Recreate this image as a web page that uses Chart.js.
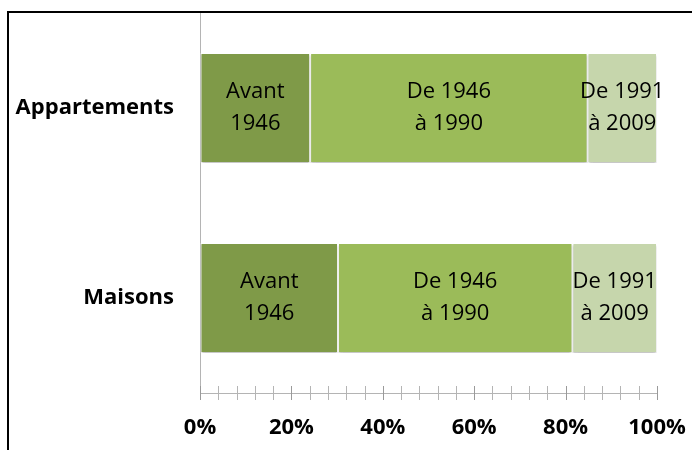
<!DOCTYPE html>
<html>
<head>
<meta charset="utf-8">
<script src="https://cdn.jsdelivr.net/npm/chart.js@4"></script>
<style>
  html, body { margin: 0; padding: 0; background: #fff; }
  #wrap { width: 692px; height: 450px; position: relative; }
</style>
</head>
<body>
<div id="wrap"><canvas id="ageChart"></canvas></div>
<script>
// Catégories et séries (parts en %)
const categories = ['Appartements', 'Maisons'];
const seriesNames = ['Avant 1946', 'De 1946 à 1990', 'De 1991 à 2009'];
const seriesLines = [['Avant', '1946'], ['De 1946', 'à 1990'], ['De 1991', 'à 2009']];
const avant1946 = [24.1, 30.2];
const de1946a1990 = [60.7, 51.3];
const de1991a2009 = [15.2, 18.5];
const majorTicks = [0, 20, 40, 60, 80, 100];

const colors = ['#7F9A48', '#9BBB59', '#C6D6AC'];
const axisGray = '#B4B4B4';

Chart.defaults.font.family = "'Open Sans', sans-serif";

// ombre légère sous les barres
const barShadow = {
    id: 'barShadow',
    beforeDatasetsDraw(chart) {
        const ctx = chart.ctx;
        ctx.save();
        ctx.shadowColor = 'rgba(0,0,0,0.22)';
        ctx.shadowOffsetY = 2;
        ctx.shadowBlur = 2;
    },
    afterDatasetsDraw(chart) {
        chart.ctx.restore();
    }
};

// étiquettes sur deux lignes au centre de chaque segment
const segLabels = {
    id: 'segLabels',
    afterDraw(chart) {
        const ctx = chart.ctx;
        ctx.save();
        ctx.fillStyle = '#000';
        ctx.font = "22px 'Open Sans'";
        ctx.textAlign = 'center';
        ctx.textBaseline = 'middle';
        chart.data.datasets.forEach((ds, i) => {
            const meta = chart.getDatasetMeta(i);
            meta.data.forEach(bar => {
                const cx = (bar.x + bar.base) / 2;
                const lines = seriesLines[i];
                ctx.fillText(lines[0], cx, bar.y - 16);
                ctx.fillText(lines[1], cx, bar.y + 16);
            });
        });
        ctx.restore();
    }
};

// petites graduations qui traversent l'axe horizontal + cadre
const axisDecor = {
    id: 'axisDecor',
    afterDraw(chart) {
        const ctx = chart.ctx;
        const xs = chart.scales.x;
        const y0 = chart.chartArea.bottom;
        ctx.save();
        ctx.lineWidth = 1;
        xs.ticks.forEach(t => {
            const px = Math.round(xs.getPixelForValue(t.value)) + 0.5;
            const major = majorTicks.includes(t.value);
            ctx.strokeStyle = major ? '#9A9A9A' : axisGray;
            ctx.beginPath();
            ctx.moveTo(px, y0 - 7);
            ctx.lineTo(px, y0 + 7);
            ctx.stroke();
        });
        // cadre noir (haut et gauche)
        ctx.strokeStyle = '#000';
        ctx.lineWidth = 2;
        ctx.beginPath();
        ctx.moveTo(8, chart.height);
        ctx.lineTo(8, 12);
        ctx.lineTo(chart.width, 12);
        ctx.stroke();
        ctx.restore();
    }
};

const datasets = [avant1946, de1946a1990, de1991a2009].map((vals, i) => ({
    label: seriesNames[i],
    data: vals,
    backgroundColor: colors[i],
    borderColor: '#FFFFFF',
    borderWidth: 1,
    borderSkipped: false,
    categoryPercentage: 0.58,
    barPercentage: 1
}));

new Chart(document.getElementById('ageChart'), {
    type: 'bar',
    data: { labels: categories, datasets: datasets },
    options: {
        indexAxis: 'y',
        responsive: true,
        maintainAspectRatio: false,
        animation: false,
        layout: { padding: { top: 13, right: 35, left: 0, bottom: 0 } },
        scales: {
            x: {
                stacked: true,
                min: 0,
                max: 100,
                afterFit(scale) {
                    scale.height = 57;
                    scale.paddingLeft = 0;
                    scale.paddingRight = 0;
                },
                ticks: {
                    stepSize: 4,
                    autoSkip: false,
                    maxRotation: 0,
                    padding: 22,
                    color: '#000',
                    font: { size: 22, weight: 'bold' },
                    callback: v => majorTicks.includes(v) ? v + '%' : ''
                },
                grid: { drawOnChartArea: false, drawTicks: false },
                border: { color: axisGray }
            },
            y: {
                stacked: true,
                afterFit(scale) {
                    scale.width = 200;
                    scale.paddingTop = 0;
                    scale.paddingBottom = 0;
                },
                ticks: {
                    padding: 26,
                    color: '#000',
                    font: { size: 22, weight: 'bold' }
                },
                grid: { drawOnChartArea: false, drawTicks: false },
                border: { color: axisGray }
            }
        },
        plugins: {
            legend: { display: false },
            tooltip: { enabled: false }
        }
    },
    plugins: [barShadow, segLabels, axisDecor]
});
</script>
</body>
</html>
